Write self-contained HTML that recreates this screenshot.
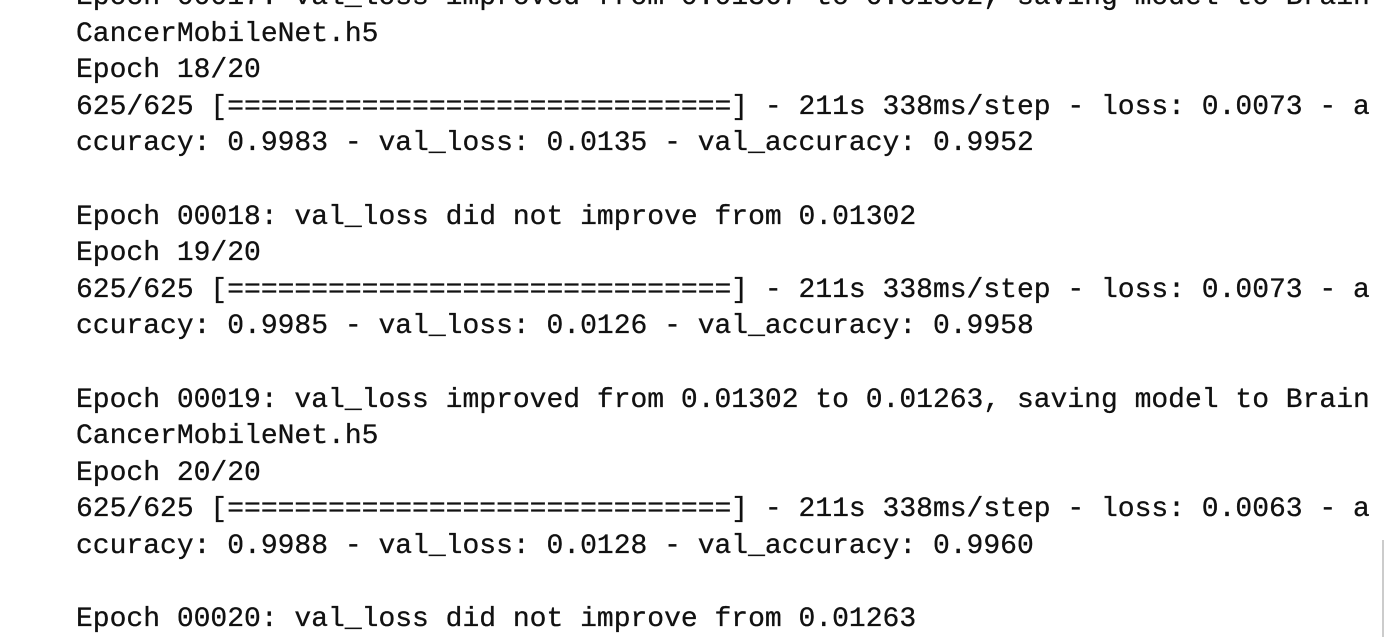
<!DOCTYPE html>
<html>
<head>
<meta charset="utf-8">
<style>
html,body{margin:0;padding:0;width:1385px;height:637px;overflow:hidden;background:#fff;}
#log{position:absolute;left:76px;top:-20px;margin:0;font-family:"Liberation Mono",monospace;font-size:28px;line-height:36.6px;color:#111;-webkit-text-stroke:0.3px #111;white-space:pre;}
#scroll{position:absolute;left:1382px;top:540px;width:2px;height:97px;background:#ccc;}
</style>
</head>
<body>
<pre id="log">Epoch 00017: val_loss improved from 0.01367 to 0.01302, saving model to Brain
CancerMobileNet.h5
Epoch 18/20
625/625 [==============================] - 211s 338ms/step - loss: 0.0073 - a
ccuracy: 0.9983 - val_loss: 0.0135 - val_accuracy: 0.9952

Epoch 00018: val_loss did not improve from 0.01302
Epoch 19/20
625/625 [==============================] - 211s 338ms/step - loss: 0.0073 - a
ccuracy: 0.9985 - val_loss: 0.0126 - val_accuracy: 0.9958

Epoch 00019: val_loss improved from 0.01302 to 0.01263, saving model to Brain
CancerMobileNet.h5
Epoch 20/20
625/625 [==============================] - 211s 338ms/step - loss: 0.0063 - a
ccuracy: 0.9988 - val_loss: 0.0128 - val_accuracy: 0.9960

Epoch 00020: val_loss did not improve from 0.01263</pre>
<div id="scroll"></div>
</body>
</html>
